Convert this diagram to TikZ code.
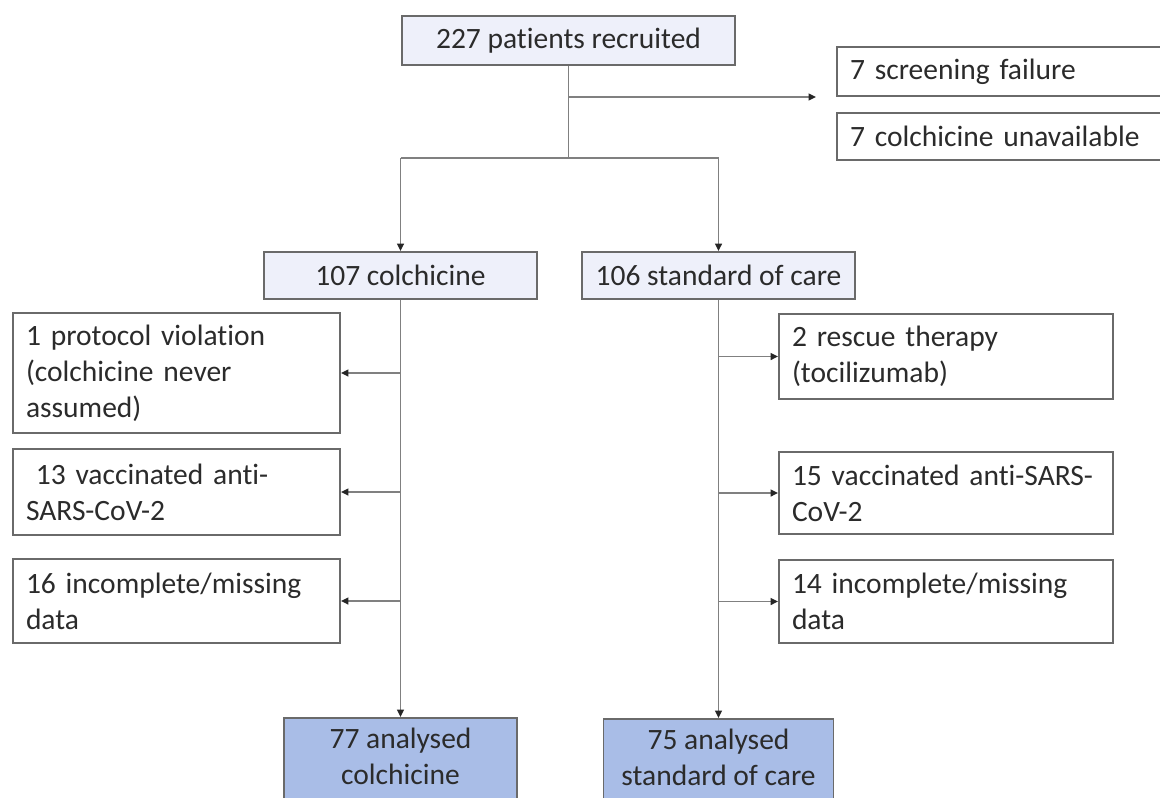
\documentclass[tikz,border=0pt]{standalone}
\usepackage{fontspec}
\setmainfont{Carlito}[Ligatures=NoCommon]
\usetikzlibrary{arrows.meta}
\definecolor{topfill}{HTML}{EEF0FA}
\definecolor{anfill}{HTML}{A9BDE7}
\definecolor{bordercol}{HTML}{6A6A6A}
\definecolor{linecol}{HTML}{808080}
\definecolor{txt}{HTML}{2B2B2B}
\begin{document}
\begin{tikzpicture}[x=1pt,y=-1pt,
  base/.style={draw=bordercol, line width=1.9pt, text=txt, font=\fontsize{29.5}{36}\selectfont, inner sep=0pt},
  headbox/.style={base, fill=topfill, align=center},
  sidebox/.style={base, fill=white, align=left, inner xsep=13pt},
  anbox/.style={base, fill=anfill, align=center, inner ysep=10.5pt},
  conn/.style={draw=linecol, line width=1.5pt},
  arr/.style={conn, -{Triangle[length=7.5pt,width=7pt,fill=black!85,color=black!85]}}]
\useasboundingbox (0,0) rectangle (1160,798);
\fill[white] (0,0) rectangle (1160,798);

% main column
\node[headbox, minimum width=333pt, minimum height=49pt] (top) at (568.5,40.5) {227 patients recruited};
\node[sidebox, text width=302pt, minimum height=49pt] (sf) at (1001,71.5) {7 screening failure};
\node[sidebox, text width=302pt, minimum height=47pt] (cu) at (1001,136.5) {7 colchicine unavailable};

\node[headbox, minimum width=273pt, minimum height=47pt] (c107) at (400.5,275.5) {107 colchicine};
\node[headbox, minimum width=273pt, minimum height=47pt] (c106) at (718.5,275.5) {106 standard of care};

% left exclusions
\node[sidebox, text width=301pt, minimum height=120pt] (l1) at (176.5,373) {1 protocol violation\\(colchicine never\\assumed)};
\node[sidebox, text width=301pt, minimum height=86pt] (l2) at (176.5,492) {\ 13 vaccinated anti-\\SARS-CoV-2};
\node[sidebox, text width=301pt, minimum height=84pt] (l3) at (176.5,601) {16 incomplete/missing\\data};

% right exclusions
\node[sidebox, text width=308pt, minimum height=85pt] (r1) at (946,356.5) {2 rescue therapy\\(tocilizumab)};
\node[sidebox, text width=308pt, minimum height=82pt] (r2) at (946,493) {15 vaccinated anti-SARS-\\CoV-2};
\node[sidebox, text width=308pt, minimum height=83pt] (r3) at (946,601.5) {14 incomplete/missing\\data};

% analysed
\node[anbox, minimum width=233pt, anchor=north] (a77) at (400.5,717) {77 analysed\\colchicine\\\strut};
\node[anbox, minimum width=230pt, anchor=north] (a75) at (718.5,718) {75 analysed\\standard of care\\\strut};

% connectors
\coordinate (split) at (568.5,158);
\coordinate (excl) at (816,97);
\draw[conn] (top.south) -- (split);
\draw[arr] (top.south |- excl) -- (excl);
\draw[conn] (c107.north |- split) -- (c106.north |- split);
\draw[arr] (c107.north |- split) -- (c107.north);
\draw[arr] (c106.north |- split) -- (c106.north);
\draw[arr] (c107.south) -- (a77.north);
\draw[arr] (c106.south) -- (a75.north);

\draw[arr] (c107.south |- l1.east) -- (l1.east);
\draw[arr] (c107.south |- l2.east) -- (l2.east);
\draw[arr] (c107.south |- l3.east) -- (l3.east);
\draw[arr] (c106.south |- r1.west) -- (r1.west);
\draw[arr] (c106.south |- r2.west) -- (r2.west);
\draw[arr] (c106.south |- r3.west) -- (r3.west);
\end{tikzpicture}
\end{document}
